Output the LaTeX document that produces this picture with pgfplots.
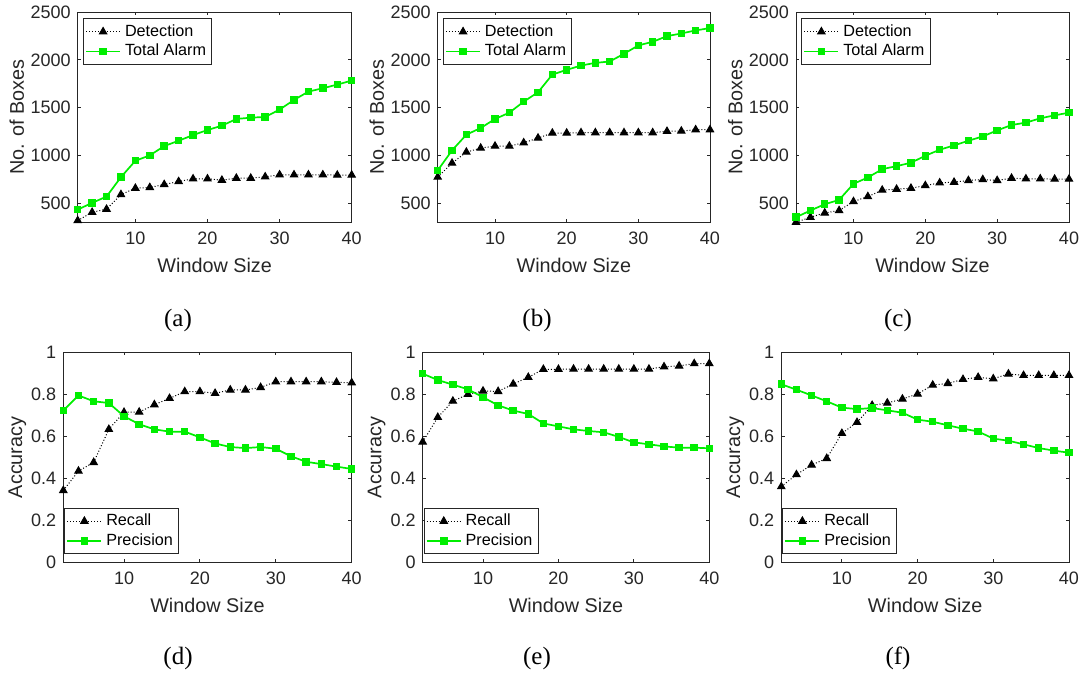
\documentclass[border=0pt]{standalone}
\usepackage{fontspec}
\setmainfont{Liberation Sans}
\newfontfamily\capfont{Liberation Serif}
\usepackage{pgfplots}
\pgfplotsset{compat=1.18}
\definecolor{mgreen}{RGB}{0,238,0}
\definecolor{axgray}{gray}{0.15}
\pgfplotsset{
  base/.style={
    scale only axis, anchor=south west,
    xmin=2, xmax=40, xtick={10,20,30,40},
    tick align=inside, major tick length=1.7pt,
    axis line style={axgray, line width=0.45pt},
    every tick/.style={axgray, line width=0.45pt},
    tick label style={font=\fontsize{9}{10}\selectfont, text=axgray},
    /pgf/number format/assume math mode=true,
    /pgf/number format/set thousands separator={},
    label style={font=\fontsize{9.9}{11}\selectfont, text=axgray},
    xlabel={Window Size},
    xlabel style={at={(axis description cs:0.5,0)}, anchor=center, yshift=-21.5pt},
    xticklabel style={yshift=-1pt},
    legend style={font=\fontsize{8.1}{9}\selectfont, draw=axgray,
      inner sep=0.8pt, row sep=-1.5pt, legend cell align=left},
    clip=false,
  },
  toprow/.style={base, height=105.35pt, ymin=300, ymax=2500,
    ytick={500,1000,1500,2000,2500}, ylabel={No. of Boxes},
    ylabel style={at={(axis description cs:0,0.5)}, anchor=center, yshift=30.4pt},
    legend style={at={(axis description cs:0.02,0.97)}, anchor=north west}},
  botrow/.style={base, height=105.35pt, ymin=0, ymax=1,
    ytick={0,0.2,0.4,0.6,0.8,1}, ylabel={Accuracy},
    yticklabel style={/pgf/number format/.cd, fixed, precision=1},
    ylabel style={at={(axis description cs:0,0.5)}, anchor=center, yshift=23pt},
    legend style={at={(axis description cs:0.004,0.04)}, anchor=south west}},
  blk/.style={black, densely dotted, line width=0.5pt, mark=triangle*, mark size=2.1pt,
    mark options={solid, fill=black}},
  grn/.style={mgreen, solid, line width=0.85pt, mark=square*, mark size=1.45pt,
    mark options={solid, fill=mgreen}},
}
\begin{document}
\begin{tikzpicture}
\useasboundingbox (0,0) rectangle (541.5pt,338.5pt);
% (a)
\begin{axis}[toprow, at={(38.85pt,227.15pt)}, width=137pt]
\addplot[blk] coordinates {(2,322)(4,409)(6,441)(8,594)(10,660)(12,668)(14,699)(16,730)(18,758)(20,758)(22,744)(24,765)(26,765)(28,779)(30,800)(32,800)(34,800)(36,800)(38,797)(40,797)};
\addlegendentry{Detection}
\addplot[grn] coordinates {(2,437)(4,507)(6,573)(8,776)(10,947)(12,1003)(14,1100)(16,1156)(18,1215)(20,1268)(22,1313)(24,1383)(26,1397)(28,1404)(30,1481)(32,1582)(34,1669)(36,1704)(38,1742)(40,1784)};
\addlegendentry{Total Alarm}
\end{axis}
% (b)
\begin{axis}[toprow, at={(218.85pt,227.15pt)}, width=136.15pt]
\addplot[blk] coordinates {(2,776)(4,922)(6,1037)(8,1079)(10,1100)(12,1100)(14,1135)(16,1184)(18,1236)(20,1236)(22,1240)(24,1240)(26,1240)(28,1240)(30,1240)(32,1240)(34,1254)(36,1257)(38,1271)(40,1271)};
\addlegendentry{Detection}
\addplot[grn] coordinates {(2,846)(4,1055)(6,1219)(8,1289)(10,1383)(12,1449)(14,1564)(16,1662)(18,1847)(20,1896)(22,1941)(24,1969)(26,1983)(28,2064)(30,2151)(32,2189)(34,2248)(36,2276)(38,2308)(40,2332)};
\addlegendentry{Total Alarm}
\end{axis}
% (c)
\begin{axis}[toprow, at={(398pt,227.15pt)}, width=136.5pt]
\addplot[blk] coordinates {(2,305)(4,357)(6,402)(8,427)(10,521)(12,573)(14,640)(16,650)(18,660)(20,688)(22,716)(24,723)(26,741)(28,751)(30,741)(32,765)(34,758)(36,758)(38,755)(40,755)};
\addlegendentry{Detection}
\addplot[grn] coordinates {(2,357)(4,427)(6,493)(8,538)(10,706)(12,772)(14,859)(16,891)(18,926)(20,999)(22,1062)(24,1107)(26,1156)(28,1201)(30,1264)(32,1320)(34,1345)(36,1390)(38,1421)(40,1449)};
\addlegendentry{Total Alarm}
\end{axis}
% (d)
\begin{axis}[botrow, at={(31.65pt,57.15pt)}, width=144.2pt]
\addplot[blk] coordinates {(2,0.343)(4,0.435)(6,0.476)(8,0.633)(10,0.714)(12,0.715)(14,0.750)(16,0.780)(18,0.812)(20,0.812)(22,0.804)(24,0.820)(26,0.820)(28,0.832)(30,0.859)(32,0.859)(34,0.859)(36,0.859)(38,0.856)(40,0.854)};
\addlegendentry{Recall}
\addplot[grn] coordinates {(2,0.722)(4,0.794)(6,0.766)(8,0.758)(10,0.695)(12,0.657)(14,0.633)(16,0.622)(18,0.622)(20,0.595)(22,0.566)(24,0.549)(26,0.544)(28,0.549)(30,0.541)(32,0.505)(34,0.479)(36,0.468)(38,0.456)(40,0.445)};
\addlegendentry{Precision}
\end{axis}
% (e)
\begin{axis}[botrow, at={(211.35pt,57.15pt)}, width=143.3pt]
\addplot[blk] coordinates {(2,0.573)(4,0.690)(6,0.767)(8,0.799)(10,0.815)(12,0.813)(14,0.848)(16,0.880)(18,0.918)(20,0.918)(22,0.919)(24,0.919)(26,0.919)(28,0.919)(30,0.919)(32,0.919)(34,0.930)(36,0.934)(38,0.945)(40,0.945)};
\addlegendentry{Recall}
\addplot[grn] coordinates {(2,0.897)(4,0.867)(6,0.845)(8,0.823)(10,0.785)(12,0.747)(14,0.722)(16,0.706)(18,0.661)(20,0.647)(22,0.633)(24,0.625)(26,0.619)(28,0.597)(30,0.571)(32,0.562)(34,0.552)(36,0.546)(38,0.546)(40,0.543)};
\addlegendentry{Precision}
\end{axis}
% (f)
\begin{axis}[botrow, at={(390.65pt,57.15pt)}, width=143.85pt]
\addplot[blk] coordinates {(2,0.361)(4,0.418)(6,0.464)(8,0.495)(10,0.614)(12,0.666)(14,0.747)(16,0.758)(18,0.777)(20,0.801)(22,0.843)(24,0.851)(26,0.870)(28,0.880)(30,0.873)(32,0.896)(34,0.889)(36,0.889)(38,0.889)(40,0.889)};
\addlegendentry{Recall}
\addplot[grn] coordinates {(2,0.847)(4,0.821)(6,0.794)(8,0.766)(10,0.736)(12,0.729)(14,0.734)(16,0.723)(18,0.712)(20,0.679)(22,0.669)(24,0.652)(26,0.636)(28,0.623)(30,0.589)(32,0.579)(34,0.562)(36,0.544)(38,0.532)(40,0.522)};
\addlegendentry{Precision}
\end{axis}
% captions
\node[font=\capfont\fontsize{12.5}{14}\selectfont] at (89pt,178.5pt) {(a)};
\node[font=\capfont\fontsize{12.5}{14}\selectfont] at (268.5pt,178.5pt) {(b)};
\node[font=\capfont\fontsize{12.5}{14}\selectfont] at (449pt,178.5pt) {(c)};
\node[font=\capfont\fontsize{12.5}{14}\selectfont] at (89pt,9.5pt) {(d)};
\node[font=\capfont\fontsize{12.5}{14}\selectfont] at (268.5pt,9.5pt) {(e)};
\node[font=\capfont\fontsize{12.5}{14}\selectfont] at (449pt,9.5pt) {(f)};
\end{tikzpicture}
\end{document}
